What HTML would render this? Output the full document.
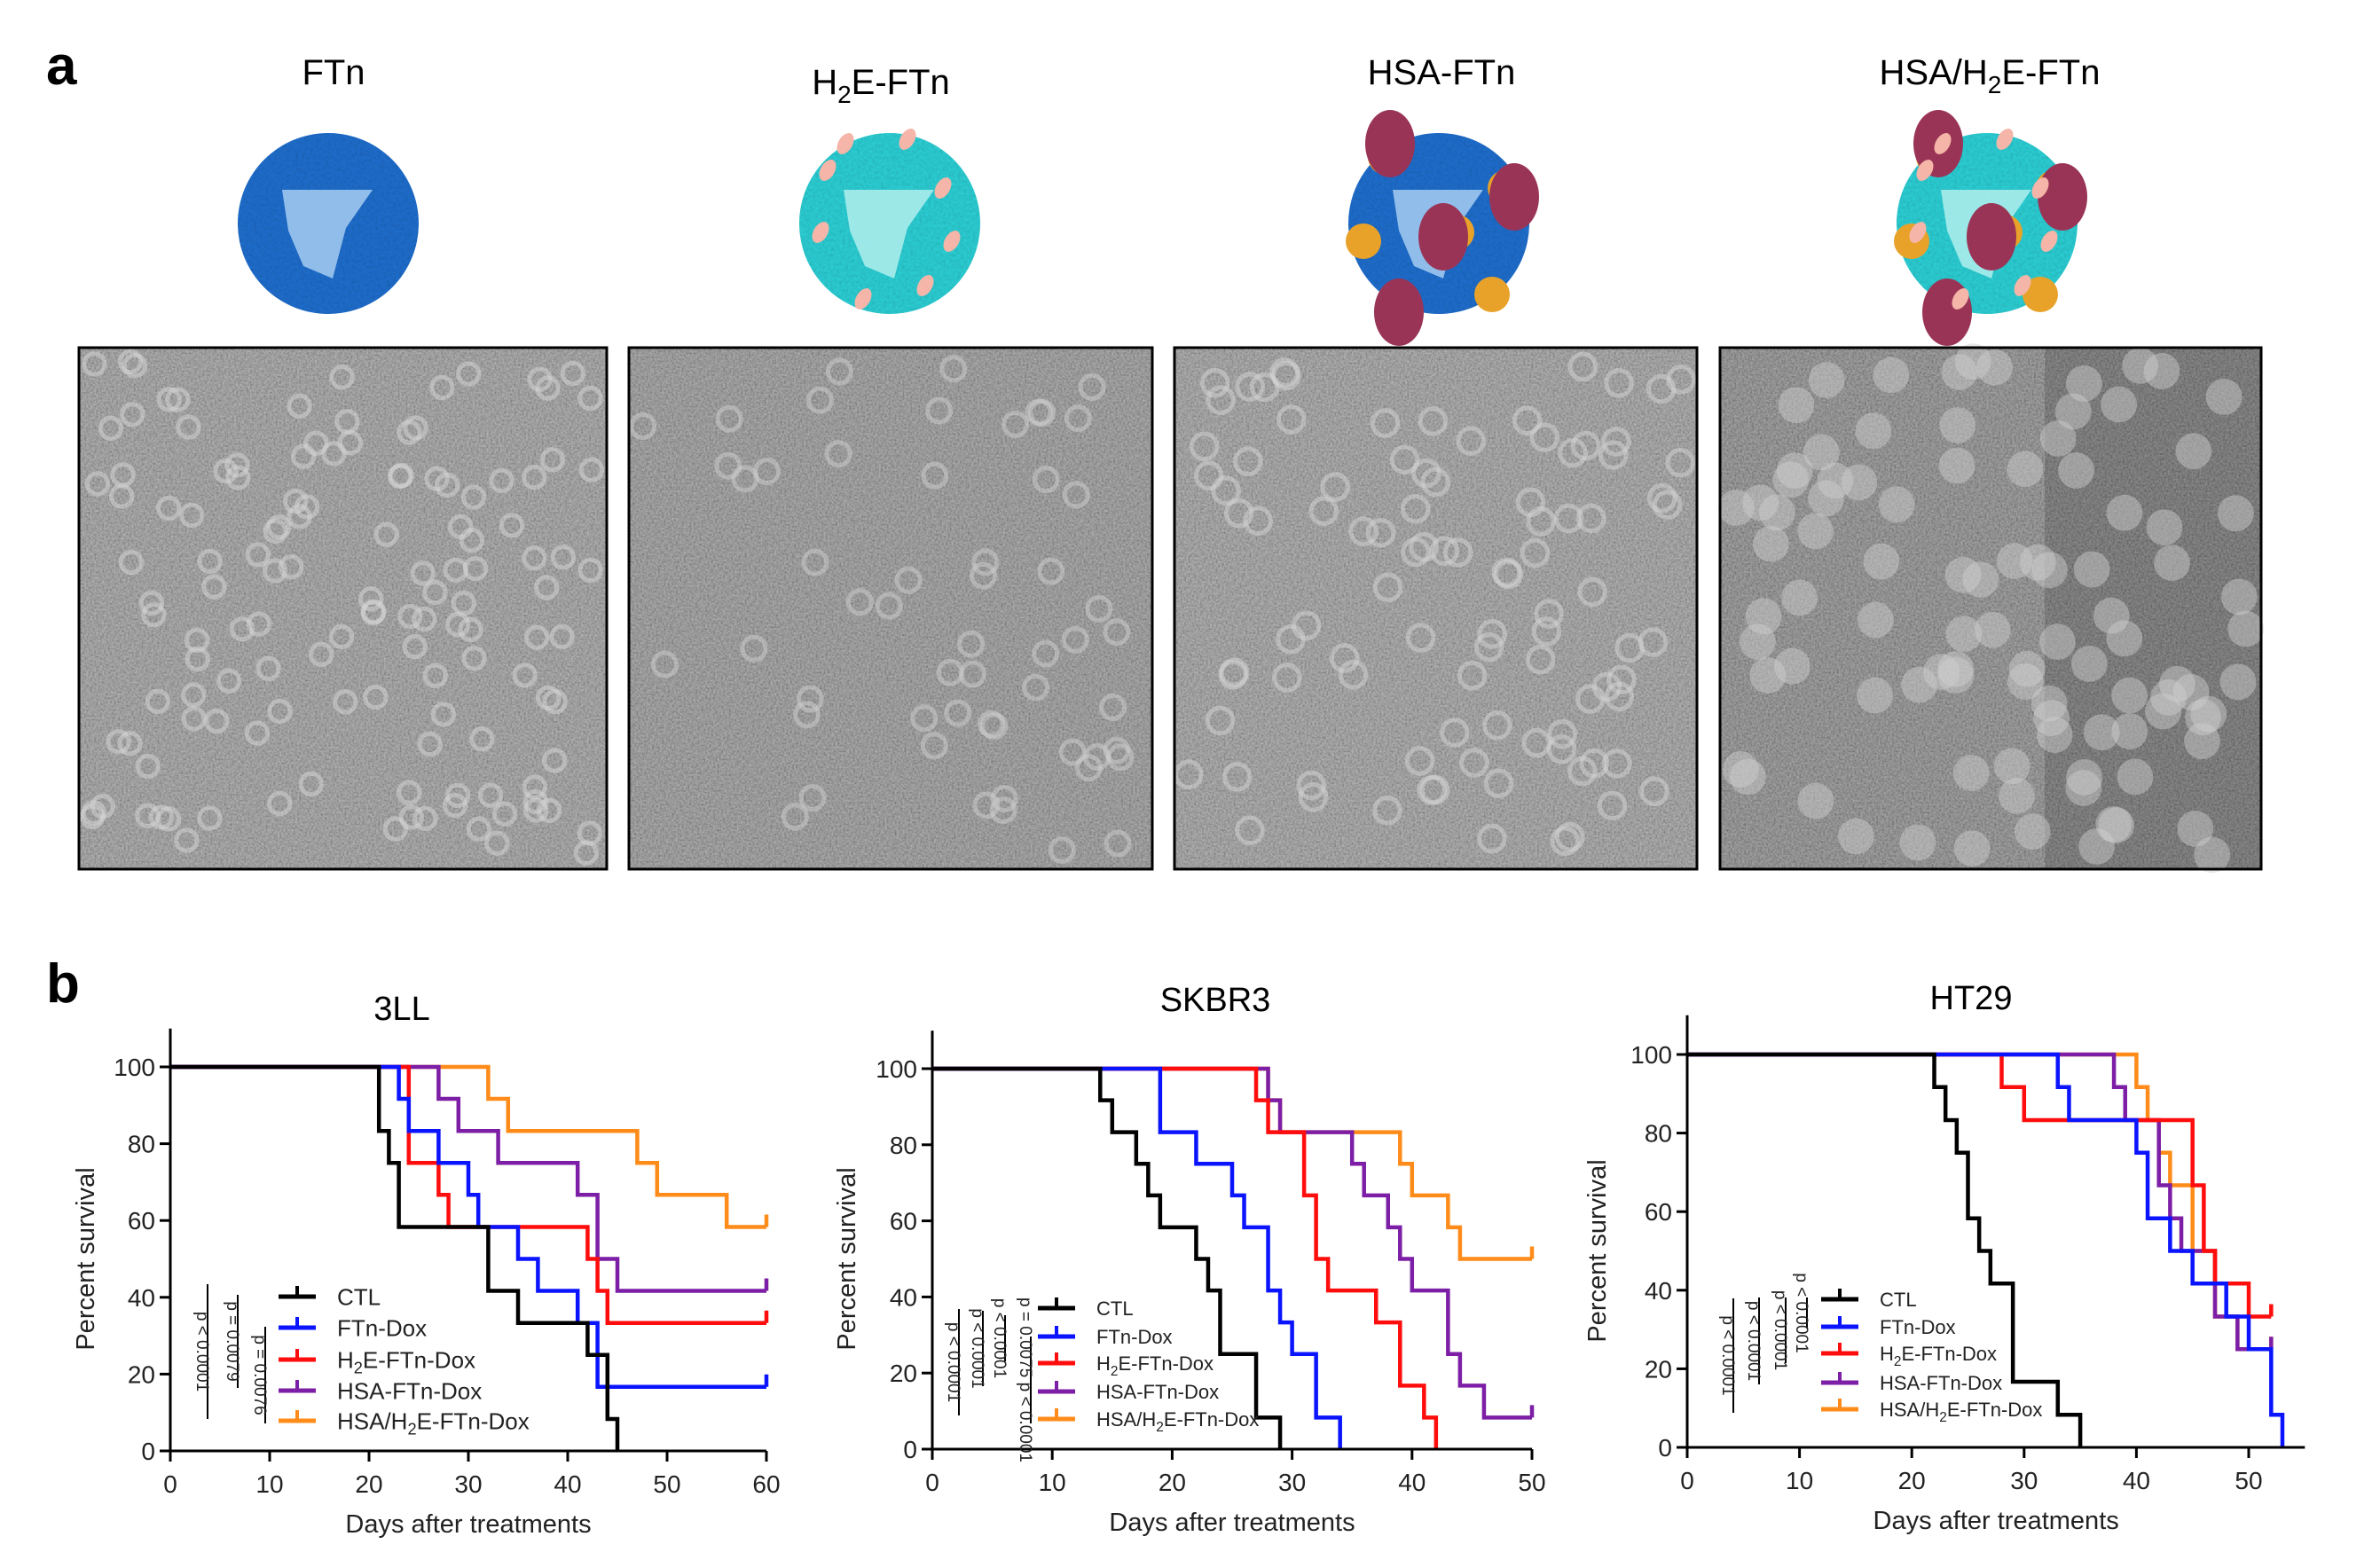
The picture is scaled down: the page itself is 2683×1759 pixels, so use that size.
<!DOCTYPE html>
<html><head><meta charset="utf-8"><style>
html,body{margin:0;padding:0;background:#fff;}
svg{display:block;font-family:"Liberation Sans",Arial,sans-serif;}
</style></head><body>
<svg id="fig" width="2683" height="1759" viewBox="0 0 2683 1759" xmlns="http://www.w3.org/2000/svg">
<defs>
<filter id="grain" x="0" y="0" width="100%" height="100%">
<feTurbulence type="fractalNoise" baseFrequency="0.45" numOctaves="2" seed="3"/>
<feColorMatrix type="matrix" values="1 0 0 0 0  1 0 0 0 0  1 0 0 0 0  0 0 0 0 1"/>
</filter>
<filter id="rough" x="0" y="0" width="100%" height="100%">
<feTurbulence type="fractalNoise" baseFrequency="0.3" numOctaves="2" seed="5"/>
<feColorMatrix type="matrix" values="1 0 0 0 0  1 0 0 0 0  1 0 0 0 0  0 0 0 0 1"/>
</filter>
<clipPath id="sc1"><circle cx="370" cy="252" r="102"/></clipPath>
<clipPath id="sc2"><circle cx="1003" cy="252" r="102"/></clipPath>
<clipPath id="sc3"><circle cx="1622" cy="252" r="102"/></clipPath>
<clipPath id="sc4"><circle cx="2240" cy="252" r="102"/></clipPath>
</defs>
<text x="52" y="95" font-size="62" font-weight="bold">a</text>
<text x="52" y="1130" font-size="62" font-weight="bold">b</text>
<g font-size="40" text-anchor="middle">
<text x="376" y="95">FTn</text>
<text x="993" y="106">H<tspan font-size="28" dy="10">2</tspan><tspan dy="-10">E-FTn</tspan></text>
<text x="1625" y="95">HSA-FTn</text>
<text x="2243" y="95">HSA/H<tspan font-size="28" dy="10">2</tspan><tspan dy="-10">E-FTn</tspan></text>
</g>
<g id="spheres"></g>
<g id="tem"></g>
<g id="charts"></g>
</svg>
<script>
// ---------- Chart data (3LL) ----------
const l_ctl_t=[21,22,23,32,35,42,44,45];       const l_ctl_s=[83.3,75,58.3,41.7,33.3,25,8.3,0];
const l_ftn_t=[23,24,27,30,31,35,37,41,43];    const l_ftn_s=[91.7,83.3,75,66.7,58.3,50,41.7,33.3,16.7];
const l_h2e_t=[24,27,28,42,43,44];             const l_h2e_s=[75,66.7,58.3,50,41.7,33.3];
const l_hsa_t=[27,29,33,41,43,45];             const l_hsa_s=[91.7,83.3,75,66.7,50,41.7];
const l_hh_t=[32,34,47,49,56];                 const l_hh_s=[91.7,83.3,75,66.7,58.3];
// ---------- SKBR3 ----------
const s_ctl_t=[14,15,17,18,19,22,23,24,27,29]; const s_ctl_s=[91.7,83.3,75,66.7,58.3,50,41.7,25,8.3,0];
const s_ftn_t=[19,22,25,26,28,29,30,32,34];    const s_ftn_s=[83.3,75,66.7,58.3,41.7,33.3,25,8.3,0];
const s_h2e_t=[27,28,31,32,33,37,39,41,42];    const s_h2e_s=[91.7,83.3,66.7,50,41.7,33.3,16.7,8.3,0];
const s_hsa_t=[28,29,35,36,38,39,40,43,44,46]; const s_hsa_s=[91.7,83.3,75,66.7,58.3,50,41.7,25,16.7,8.3];
const s_hh_t=[28,29,39,40,43,44];              const s_hh_s=[91.7,83.3,75,66.7,58.3,50];
// ---------- HT29 ----------
const h_ctl_t=[22,23,24,25,26,27,29,33,35];    const h_ctl_s=[91.7,83.3,75,58.3,50,41.7,16.7,8.3,0];
const h_ftn_t=[33,34,40,41,43,45,48,50,52,53]; const h_ftn_s=[91.7,83.3,75,58.3,50,41.7,33.3,25,8.3,0];
const h_h2e_t=[28,30,45,46,47,50];             const h_h2e_s=[91.7,83.3,66.7,50,41.7,33.3];
const h_hsa_t=[38,39,42,43,44,47,49];          const h_hsa_s=[91.7,83.3,66.7,58.3,50,33.3,25];
const h_hh_t=[40,41,42,43,45,47,49];           const h_hh_s=[91.7,83.3,75,66.7,50,33.3,25];
const xTicks3LL=[0,10,20,30,40,50,60];
const xTicksSK=[0,10,20,30,40,50];
const xTicksHT=[0,10,20,30,40,50];
const yTicks=[0,20,40,60,80,100];
const seriesNames=["CTL","FTn-Dox","H2E-FTn-Dox","HSA-FTn-Dox","HSA/H2E-FTn-Dox"];
const pvals3LL=["p < 0.0001","p = 0.0079","p = 0.0076"];
const pvalsSK=["p < 0.0001","p < 0.0001","p < 0.0001","p = 0.0075  p < 0.0001"];
const pvalsHT=["p < 0.0001","p < 0.0001","p < 0.0001","p < 0.0001"];

const NS="http://www.w3.org/2000/svg";
const colors=["#000000","#0a14ff","#ff0d0d","#7d1fa6","#ff8c1a"];
function mk(tag,attrs,parent){const e=document.createElementNS(NS,tag);for(const k in attrs)e.setAttribute(k,attrs[k]);if(parent)parent.appendChild(e);return e;}

function chart(cfg){
  const g=mk('g',{},document.getElementById('charts'));
  
  
  const X=d=>cfg.x0+(d-cfg.xmin)*(cfg.x1-cfg.x0)/(cfg.xmax-cfg.xmin);
  const Y=v=>cfg.y0-v*(cfg.y0-cfg.y100)/100;
  const t=mk('text',{x:cfg.tx,y:cfg.ty,'font-size':38,'text-anchor':'middle'},g);t.textContent=cfg.title;
  
  
  for(let i=cfg.series.length-1;i>=0;i--){
    const s=cfg.series[i];
    let d=`M${X(0)},${Y(100)}`;
    for(let k=0;k<s.t.length;k++){d+=` H${X(s.t[k])} V${Y(s.s[k])}`;}
    const last=s.s.length?s.s[s.s.length-1]:100;
    if(last>0){d+=` H${X(s.end)} M${X(s.end)},${Y(last)} v-14`;}
    const p=mk('path',{d:d,fill:'none',stroke:colors[i],'stroke-width':4.5,'stroke-linejoin':'miter'},g);
    
    
  }
  const ax=mk('path',{d:`M${cfg.x0},${Y(110)} V${cfg.y0} H${X(cfg.axEnd)}`,fill:'none',stroke:'#000','stroke-width':3},g);
  
  
  cfg.yt.forEach(v=>{
    mk('line',{x1:cfg.x0-12,x2:cfg.x0,y1:Y(v),y2:Y(v),stroke:'#000','stroke-width':3},g);
    const tl=mk('text',{x:cfg.x0-17,y:Y(v)+10,'font-size':28,'text-anchor':'end',fill:'#222'},g);tl.textContent=v;
    
    
  });
  cfg.xt.forEach(v=>{
    mk('line',{x1:X(v),x2:X(v),y1:cfg.y0,y2:cfg.y0+12,stroke:'#000','stroke-width':3},g);
    const tl=mk('text',{x:X(v),y:cfg.y0+47,'font-size':28,'text-anchor':'middle',fill:'#222'},g);tl.textContent=v;
    
    
  });
  const xl=mk('text',{x:(cfg.x0+X(cfg.axEnd))/2,y:cfg.y0+92,'font-size':29,'text-anchor':'middle',fill:'#222'},g);xl.textContent='Days after treatments';
  
  
  const yl=mk('text',{x:0,y:0,'font-size':29,'text-anchor':'middle',fill:'#222',transform:`translate(${cfg.ylx},${(cfg.y0+cfg.y100)/2}) rotate(-90)`},g);yl.textContent='Percent survival';
  
  
  cfg.legY.forEach((ly,i)=>{
    const le=mk('g',{},g);
    
    
    mk('line',{x1:cfg.legX,x2:cfg.legX+cfg.legW,y1:ly,y2:ly,stroke:colors[i],'stroke-width':5},le);
    mk('line',{x1:cfg.legX+cfg.legW/2,x2:cfg.legX+cfg.legW/2,y1:ly,y2:ly-12,stroke:colors[i],'stroke-width':4},le);
    const tx=mk('text',{x:cfg.legX+cfg.legW+cfg.legGap,y:ly+cfg.legFs*0.36,'font-size':cfg.legFs,fill:'#222'},le);
    if(i===2||i===4){
      tx.innerHTML=(i===2?'H':'HSA/H')+`<tspan font-size="${cfg.legFs*0.7}" dy="6">2</tspan><tspan dy="-6">E-FTn-Dox</tspan>`;
    } else tx.textContent=seriesNames[i];
  });
  cfg.pb.forEach((b,i)=>{
    const pg=mk('g',{},g);
    
    
    mk('line',{x1:b[0],x2:b[0],y1:b[1],y2:b[2],stroke:'#000','stroke-width':2},pg);
    const pt=mk('text',{x:0,y:0,'font-size':19,'text-anchor':'middle',fill:'#222',transform:`translate(${b[0]-12},${(b[1]+b[2])/2}) rotate(90)`},pg);
    pt.textContent=cfg.pv[i];
  });
}

chart({name:'chart-3ll',title:'3LL',tx:453,ty:1150,x0:192,x1:864,xmin:0,xmax:60,axEnd:60,y0:1636,y100:1203,
  xt:xTicks3LL,yt:yTicks,ylx:106,
  series:[{t:l_ctl_t,s:l_ctl_s,end:60},{t:l_ftn_t,s:l_ftn_s,end:60},{t:l_h2e_t,s:l_h2e_s,end:60},{t:l_hsa_t,s:l_hsa_s,end:60},{t:l_hh_t,s:l_hh_s,end:60}],
  legX:314,legW:42,legGap:24,legFs:26,legY:[1462,1497,1533,1568,1602],
  pb:[[234,1448,1600],[268,1460,1565],[299,1496,1605]],pv:pvals3LL});
chart({name:'chart-skbr3',title:'SKBR3',tx:1370,ty:1140,x0:1051,x1:1727,xmin:0,xmax:50,axEnd:50,y0:1634,y100:1205,
  xt:xTicksSK,yt:yTicks,ylx:964,
  series:[{t:s_ctl_t,s:s_ctl_s,end:50},{t:s_ftn_t,s:s_ftn_s,end:50},{t:s_h2e_t,s:s_h2e_s,end:50},{t:s_hsa_t,s:s_hsa_s,end:50},{t:s_hh_t,s:s_hh_s,end:50}],
  legX:1170,legW:42,legGap:24,legFs:22,legY:[1475,1507,1537,1569,1600],
  pb:[[1081,1476,1596],[1108,1478,1563],[1133,1483,1535],[1162,1507,1605]],pv:pvalsSK});
chart({name:'chart-ht29',title:'HT29',tx:2222,ty:1138,x0:1902,x1:2535,xmin:0,xmax:50,axEnd:55,y0:1632,y100:1189,
  xt:xTicksHT,yt:yTicks,ylx:1810,
  series:[{t:h_ctl_t,s:h_ctl_s,end:52},{t:h_ftn_t,s:h_ftn_s,end:52},{t:h_h2e_t,s:h_h2e_s,end:52},{t:h_hsa_t,s:h_hsa_s,end:52},{t:h_hh_t,s:h_hh_s,end:52}],
  legX:2053,legW:42,legGap:24,legFs:22,legY:[1465,1496,1526,1559,1589],
  pb:[[1954,1464,1593],[1983,1463,1561],[2013,1463,1537],[2037,1463,1498]],pv:pvalsHT});

// ---------- Spheres ----------
const sp=document.getElementById('spheres');
function sphere(cx,cy,shell,inner,extras,name,clip){
  const g=mk('g',{},sp);
  
  
  mk('circle',{cx:cx,cy:cy,r:102,fill:shell},g);
  mk('rect',{x:cx-102,y:cy-102,width:204,height:204,filter:'url(#rough)',opacity:0.25,'clip-path':`url(#${clip})`,style:'mix-blend-mode:multiply'},g);
  mk('path',{d:`M${cx-52},${cy-38} L${cx+50},${cy-38} L${cx+20},${cy+5} L${cx+5},${cy+62} L${cx-28},${cy+48} L${cx-45},${cy+8} Z`,fill:inner,opacity:0.9},g);
  extras(g,cx,cy);
}
function pinks(g,cx,cy){[[-70,-60],[-78,10],[60,-40],[70,20],[40,70],[-30,85],[20,-95],[-50,-90]].forEach(p=>mk('ellipse',{cx:cx+p[0],cy:cy+p[1],rx:8,ry:13,fill:'#f5b5a8',transform:`rotate(30 ${cx+p[0]} ${cy+p[1]})`},g));}
function hsa(g,cx,cy){[[-60,-75],[75,-40],[20,10],[-45,85],[60,80],[-85,20]].forEach(p=>{mk('circle',{cx:cx+p[0],cy:cy+p[1],r:20,fill:'#e8a22a'},g);});[[-55,-90],[85,-30],[5,15],[-45,100]].forEach(p=>mk('ellipse',{cx:cx+p[0],cy:cy+p[1],rx:28,ry:38,fill:'#9a3456'},g));}
sphere(370,252,'#1e6fd0','#9ec6ee',()=>{},'ftn-structure','sc1');
sphere(1003,252,'#2bd2d8','#a8eceb',pinks,'h2e-ftn-structure','sc2');
sphere(1622,252,'#1e6fd0','#9ec6ee',hsa,'hsa-ftn-structure','sc3');
sphere(2240,252,'#2bd2d8','#a8eceb',(g,cx,cy)=>{hsa(g,cx,cy);pinks(g,cx,cy);},'hsa-h2e-ftn-structure','sc4');

// ---------- TEM micrographs ----------
const tem=document.getElementById('tem');
const boxes=[[89,392,595,588,'#858585','#d8d8d8',18,'tem-ftn'],[709,392,590,588,'#7c7c7c','#cfcfcf',20,'tem-h2e-ftn'],[1324,392,589,588,'#868686','#d6d6d6',22,'tem-hsa-ftn'],[1939,392,610,588,'#6c6c6c','#d0d0d0',24,'tem-hsa-h2e-ftn']];
let seed=7;function rnd(){seed=(seed*16807)%2147483647;return seed/2147483647;}
boxes.forEach((b,bi)=>{
  const g=mk('g',{},tem);
  
  
  mk('rect',{x:b[0],y:b[1],width:b[2],height:b[3],fill:b[4]},g);
  mk('rect',{x:b[0],y:b[1],width:b[2],height:b[3],filter:'url(#grain)',opacity:0.45},g);
  if(bi===3){mk('rect',{x:b[0]+b[2]*0.6,y:b[1],width:b[2]*0.4,height:b[3],fill:'#000',opacity:0.15},g);}
  const n=bi===0?130:(bi===1?55:95);
  for(let i=0;i<n;i++){
    const x=b[0]+15+rnd()*(b[2]-30), y=b[1]+15+rnd()*(b[3]-30);
    if(bi===3) mk('circle',{cx:x,cy:y,r:b[6]*0.85,fill:b[5],opacity:0.45},g);
    else mk('circle',{cx:x,cy:y,r:b[6]*0.65,fill:'none',stroke:b[5],'stroke-width':5,opacity:0.5},g);
  }
  mk('rect',{x:b[0],y:b[1],width:b[2],height:b[3],fill:'none',stroke:'#000','stroke-width':3},g);
});
</script>
</body></html>
